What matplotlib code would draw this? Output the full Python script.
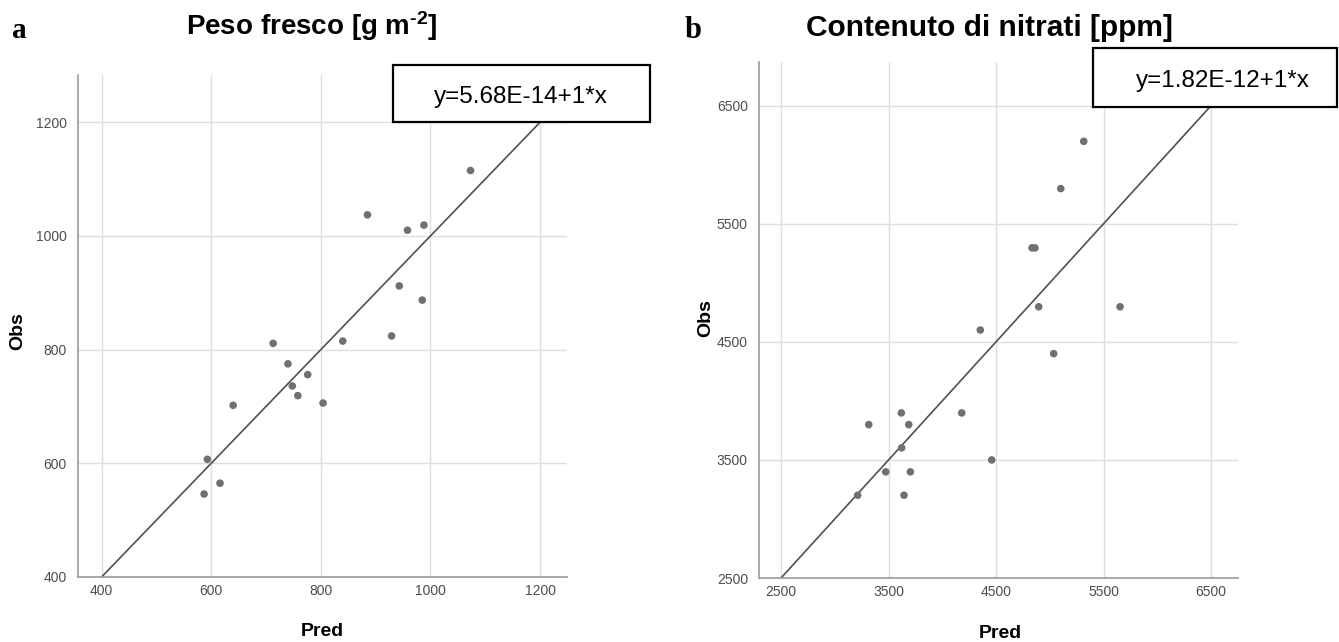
import matplotlib
matplotlib.use('Agg')
import matplotlib.pyplot as plt
from matplotlib.patches import Rectangle
import numpy as np

plt.rcParams['font.family'] = ['Liberation Sans', 'DejaVu Sans']
plt.rcParams['mathtext.fontset'] = 'custom'
plt.rcParams['mathtext.rm'] = 'Liberation Sans:bold'
plt.rcParams['mathtext.it'] = 'Liberation Sans:bold'
plt.rcParams['mathtext.bf'] = 'Liberation Sans:bold'

# panel a: fresh weight, predicted vs observed
pred_a = [1073, 885, 958, 988, 943, 985, 929, 840, 713, 740, 776, 748, 758, 804, 640, 593, 616, 587]
obs_a = [1115, 1037, 1010, 1019, 912, 887, 824, 815, 811, 775, 756, 736, 719, 706, 702, 607, 565, 546]
ticks_a = [400, 600, 800, 1000, 1200]
fit_a = (5.68e-14, 1.0)
eq_a = 'y=5.68E-14+1*x'

# panel b: nitrate content
pred_b = [5316, 5102, 4835, 4862, 4897, 5654, 4354, 5036, 3619, 4181, 3316, 3688, 3622, 4460, 3474, 3703, 3213, 3644]
obs_b = [6198, 5798, 5296, 5296, 4797, 4797, 4600, 4400, 3898, 3898, 3799, 3799, 3602, 3500, 3399, 3399, 3201, 3201]
ticks_b = [2500, 3500, 4500, 5500, 6500]
fit_b = (1.82e-12, 1.0)
eq_b = 'y=1.82E-12+1*x'

W, H = 1339, 642
fig = plt.figure(figsize=(W / 100, H / 100), dpi=100)

def px(x0, y0, x1, y1):
    return [x0 / W, 1 - y1 / H, (x1 - x0) / W, (y1 - y0) / H]

ax1 = fig.add_axes(px(78, 75, 567, 577))
ax2 = fig.add_axes(px(759, 62, 1238, 578))

panels = [
    (ax1, pred_a, obs_a, ticks_a, fit_a, (357, 1249), (400, 1283)),
    (ax2, pred_b, obs_b, ticks_b, fit_b, (2295, 6751), (2500, 6870)),
]
for ax, xs, ys, ticks, fit, xl, yl in panels:
    ax.set_xlim(*xl)
    ax.set_ylim(*yl)
    ax.set_xticks(ticks)
    ax.set_yticks(ticks)
    ax.grid(True, color='#dedede', lw=1.0)
    ax.set_axisbelow(True)
    for s in ['top', 'right']:
        ax.spines[s].set_visible(False)
    for s in ['left', 'bottom']:
        ax.spines[s].set_color('#9a9a9a')
        ax.spines[s].set_linewidth(1.2)
    ax.tick_params(axis='both', length=0, labelsize=10, labelcolor='#4d4d4d')
    ax.tick_params(axis='y', pad=8)
    ax.tick_params(axis='x', pad=5)
    lx = np.array(xl)
    ax.plot(lx, fit[0] + fit[1] * lx, color='#505050', lw=1.2, zorder=2)
    ax.scatter(xs, ys, s=30, color='#707070', edgecolors='none', zorder=3)

# axis labels
fig.text(18 / W, 1 - 331 / H, 'Obs', rotation=90, ha='center', va='center', fontsize=14, fontweight='bold')
fig.text(706 / W, 1 - 318 / H, 'Obs', rotation=90, ha='center', va='center', fontsize=14, fontweight='bold')
fig.text(322 / W, 1 - 632 / H, 'Pred', ha='center', va='center', fontsize=14, fontweight='bold')
fig.text(1000 / W, 1 - 633 / H, 'Pred', ha='center', va='center', fontsize=14, fontweight='bold')

# titles and panel letters
fig.text(312 / W, 1 - 35 / H, r'Peso fresco [g m$^{\text{-2}}$]', ha='center', va='baseline', fontsize=20, fontweight='bold')
fig.text(989 / W, 1 - 36 / H, 'Contenuto di nitrati [ppm]', ha='center', va='baseline', fontsize=21.5, fontweight='bold')
fig.text(12 / W, 1 - 37.5 / H, 'a', ha='left', va='baseline', fontsize=21, fontweight='bold', family='Liberation Serif')
fig.text(685 / W, 1 - 37.5 / H, 'b', ha='left', va='baseline', fontsize=22, fontweight='bold', family='Liberation Serif')

# equation boxes
for (x0, y0, x1, y1), txt, cx, by in [((393, 65, 650, 122), eq_a, 521, 102.7),
                                     ((1093, 48, 1337, 107), eq_b, 1223, 86.7)]:
    fig.patches.append(Rectangle((x0 / W, 1 - y1 / H), (x1 - x0) / W, (y1 - y0) / H,
                                 transform=fig.transFigure, facecolor='white',
                                 edgecolor='black', lw=1.6, zorder=5))
    fig.text(cx / W, 1 - by / H, txt, ha='center', va='baseline', fontsize=17.5, zorder=6)

fig.savefig('out.png', dpi=100)
